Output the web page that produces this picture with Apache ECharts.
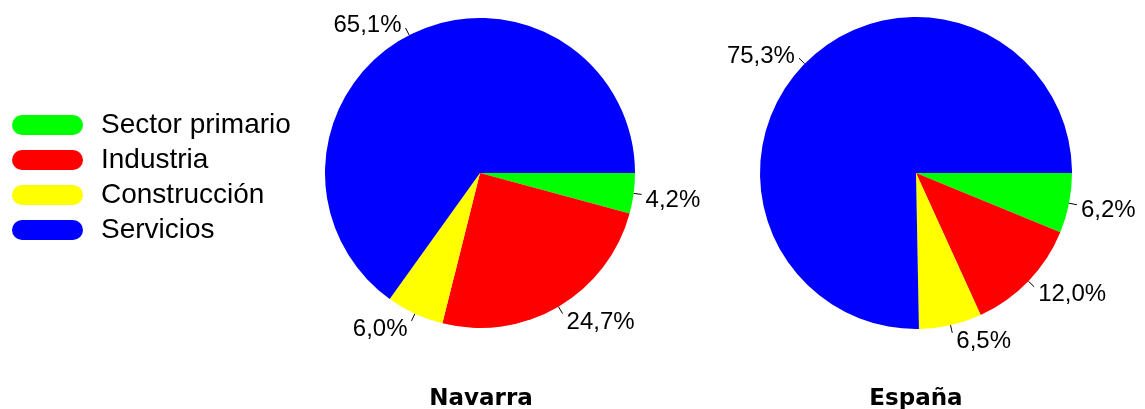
<!DOCTYPE html>
<html>
<head>
<meta charset="utf-8">
<script src="https://cdn.jsdelivr.net/npm/echarts@6/dist/echarts.min.js"></script>
<style>
  html, body { margin: 0; padding: 0; background: #fff; }
  #chart { width: 1145px; height: 409px; }
</style>
</head>
<body>
<div id="chart"></div>
<script>
// categorías y valores (%)
const sectores = ['Sector primario', 'Industria', 'Construcción', 'Servicios']
const colores = ['#00ff00', '#ff0000', '#ffff00', '#0000ff']
const navarra = [4.2, 24.7, 6.0, 65.1]
const espana = [6.2, 12.0, 6.5, 75.3]
const regiones = ['Navarra', 'España']

const fuente = 'Liberation Sans, Arial, sans-serif'
const fuenteTitulo = 'DejaVu Sans, Verdana, sans-serif'
const pill = 'path://M10,0 H61 A10,10 0 0 1 61,20 H10 A10,10 0 0 1 10,0 Z'

// las etiquetas de abajo quedan algo más bajas que el extremo de la línea
const toData = vals => {
  const total = vals.reduce((a, b) => a + b, 0)
  let acc = 0
  return vals.map((v, i) => {
    const mid = (acc + v / 2) / total * Math.PI * 2
    acc += v
    const s = Math.sin(mid)
    const dy = s > 0 ? 5 + 4 * s : 1 + 4 * s
    return {
      name: sectores[i],
      value: v,
      itemStyle: { color: colores[i] },
      label: { offset: [0, dy] }
    }
  })
}

const pieSerie = (vals, center, radius) => ({
  type: 'pie',
  center: center,
  radius: radius,
  startAngle: 0,
  clockwise: true,
  animation: false,
  silent: true,
  data: toData(vals),
  label: {
    show: true,
    position: 'outside',
    formatter: p => p.value.toFixed(1).replace('.', ',') + '%',
    color: '#000',
    fontFamily: fuente,
    fontSize: 24,
    overflow: 'none',
    distanceToLabelLine: 4
  },
  labelLine: {
    show: true,
    length: 8,
    length2: 0,
    lineStyle: { color: '#000', width: 1 }
  }
})

const chart = echarts.init(document.getElementById('chart'))
chart.setOption({
  backgroundColor: '#fff',
  title: [
    { text: regiones[0], left: 476, top: 383, textAlign: 'center',
      textStyle: { fontFamily: fuenteTitulo, fontSize: 23, fontWeight: 'bold', color: '#000' } },
    { text: regiones[1], left: 911, top: 383, textAlign: 'center',
      textStyle: { fontFamily: fuenteTitulo, fontSize: 23, fontWeight: 'bold', color: '#000' } }
  ],
  legend: {
    orient: 'vertical',
    left: 7,
    top: 106,
    icon: pill,
    itemWidth: 71,
    itemHeight: 20,
    itemGap: 7,
    data: sectores,
    textStyle: { fontFamily: fuente, fontSize: 28, color: '#000', padding: [0, 0, 0, 13] }
  },
  series: [
    pieSerie(navarra, [480, 173], 155),
    pieSerie(espana, [916, 173], 156)
  ]
})
</script>
</body>
</html>
